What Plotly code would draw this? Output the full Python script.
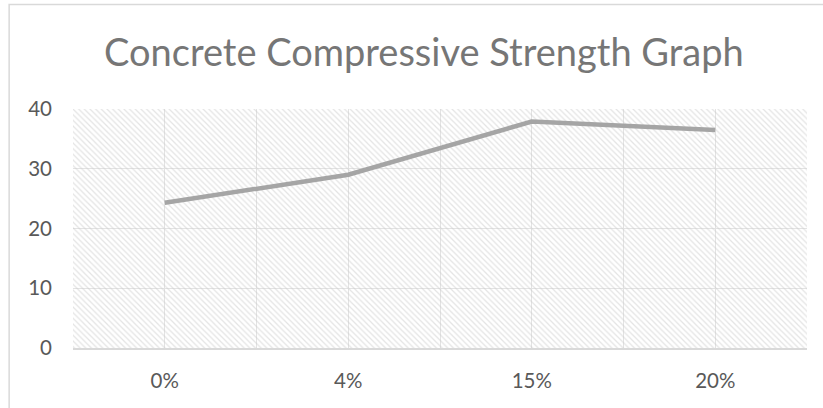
import plotly.graph_objects as go

categories = ["0%", "4%", "15%", "20%"]
strength = [24.3, 29.0, 37.9, 36.5]
y_ticks = [0, 10, 20, 30, 40]
title_text = "Concrete Compressive Strength Graph"

y_max = max(y_ticks)
idx = list(range(len(categories)))
boundaries = [i - 0.5 for i in range(len(categories) + 1)]

fig = go.Figure()

# hatched plot-area background
fig.add_trace(go.Bar(
    x=idx, y=[y_max] * len(categories), width=1,
    marker=dict(color="rgba(0,0,0,0)", line=dict(width=0),
                pattern=dict(shape="\\", fgcolor="#c9c9c9", bgcolor="rgba(0,0,0,0)",
                             size=4, solidity=0.32, fillmode="overlay")),
    hoverinfo="skip", showlegend=False,
))

fig.add_trace(go.Scatter(
    x=idx, y=strength, mode="lines",
    line=dict(color="#a5a5a5", width=4.5),
    showlegend=False,
))

grid_c = "#e3e3e3"
fig.update_layout(
    width=823, height=408,
    margin=dict(l=73, r=16, t=109, b=60),
    paper_bgcolor="white", plot_bgcolor="white",
    bargap=0,
    title=dict(text=title_text, x=0.515, xanchor="center", y=0.87, yanchor="middle",
               font=dict(family="Lato", size=38, color="#767676")),
    font=dict(family="Lato", color="#595959"),
    xaxis=dict(range=[-0.5, len(categories) - 0.5], tickvals=idx, ticktext=categories,
               showgrid=True, gridcolor=grid_c, gridwidth=1.3,
               minor=dict(tickvals=boundaries, showgrid=True, gridcolor=grid_c, gridwidth=1.3),
               zeroline=False, showline=True, linecolor="#d9d9d9", linewidth=1.5,
               ticks="", ticklabelstandoff=14, tickfont=dict(size=20.5, color="#595959")),
    yaxis=dict(range=[0, y_max], tickvals=y_ticks, showgrid=True, gridcolor=grid_c, gridwidth=1.3,
               zeroline=False, showline=False, ticks="", ticklabelstandoff=20,
               tickfont=dict(size=20.5, color="#595959")),
    shapes=[dict(type="rect", xref="paper", yref="paper",
                 x0=-0.087, x1=1.2, y0=-0.6, y1=1.437,
                 line=dict(color="#d9d9d9", width=1.5), fillcolor="rgba(0,0,0,0)", layer="below")],
)

fig.write_html("out.html")
